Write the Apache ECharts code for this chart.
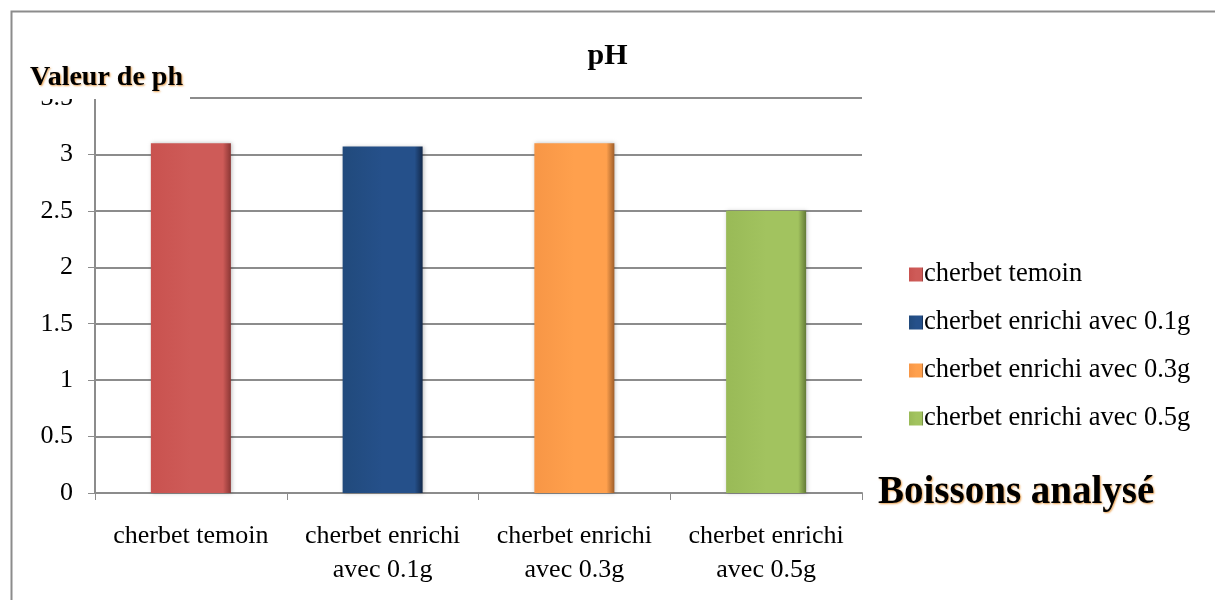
<!DOCTYPE html>
<html>
<head>
<meta charset="utf-8">
<script src="https://cdn.jsdelivr.net/npm/echarts@6/dist/echarts.min.js"></script>
<style>
  html, body { margin: 0; padding: 0; background: #fff; }
  #main { width: 1215px; height: 600px; }
</style>
</head>
<body>
<div id="main"></div>
<script>
// categories (x labels) and legend names
var categories = ['cherbet temoin', 'cherbet enrichi\navec 0.1g', 'cherbet enrichi\navec 0.3g', 'cherbet enrichi\navec 0.5g'];
var seriesNames = ['cherbet temoin', 'cherbet enrichi avec 0.1g', 'cherbet enrichi avec 0.3g', 'cherbet enrichi avec 0.5g'];
var phValues = [3.1, 3.07, 3.1, 2.5];

var chart = echarts.init(document.getElementById('main'));
var serif = '"Liberation Serif", "Times New Roman", serif';

// couleurs des barres (gauche, milieu, bord droit sombre)
var barColors = [
  ['#C9524F', '#CE5B58', '#8A3634'],
  ['#214A7C', '#25508A', '#13294A'],
  ['#F79646', '#FFA04D', '#9E5E2A'],
  ['#99BA57', '#A2C35F', '#637A36']
];

var series = [];
for (var i = 0; i < seriesNames.length; i++) {
  var d = [];
  for (var j = 0; j < categories.length; j++) {
    d.push(j === i ? phValues[i] : '-');
  }
  series.push({
    name: seriesNames[i],
    type: 'bar',
    stack: 'ph',
    barWidth: 80,
    data: d,
    itemStyle: {
      color: {
        type: 'linear', x: 0, y: 0, x2: 1, y2: 0,
        colorStops: [
          { offset: 0, color: barColors[i][0] },
          { offset: 0.5, color: barColors[i][1] },
          { offset: 0.9, color: barColors[i][1] },
          { offset: 1, color: barColors[i][2] }
        ]
      },
      shadowColor: 'rgba(0,0,0,0.25)',
      shadowBlur: 4,
      shadowOffsetX: 1
    }
  });
}

var option = {
  animation: false,
  backgroundColor: '#fff',
  title: {
    text: 'pH',
    left: 'center',
    top: 36,
    textStyle: { fontFamily: serif, fontSize: 30, fontWeight: 'bold', color: '#000' }
  },
  legend: {
    orient: 'vertical',
    left: 904,
    top: 256,
    itemWidth: 14,
    itemHeight: 14,
    itemGap: 21,
    icon: 'rect',
    textStyle: { fontFamily: serif, fontSize: 26.5, lineHeight: 25, color: '#000', padding: [0, 0, 0, -4] },
    data: seriesNames
  },
  grid: { left: 95, right: 353, top: 98, bottom: 107 },
  xAxis: {
    type: 'category',
    data: categories,
    name: 'Boissons analysé',
    nameLocation: 'end',
    nameGap: 16,
    nameTextStyle: {
      fontFamily: serif, fontSize: 39, fontWeight: 'bold', color: '#000',
      textShadowColor: '#E8A050', textShadowBlur: 2, textShadowOffsetX: 1, textShadowOffsetY: 1
    },
    axisLine: { lineStyle: { color: '#8c8c8c', width: 2 } },
    axisTick: { show: true, length: 7, alignWithLabel: false, lineStyle: { color: '#8c8c8c' } },
    axisLabel: { fontFamily: serif, fontSize: 26, color: '#000', lineHeight: 34, margin: 26, interval: 0 }
  },
  yAxis: {
    type: 'value',
    min: 0,
    max: 3.5,
    interval: 0.5,
    axisLine: { show: true, lineStyle: { color: '#8c8c8c', width: 2 } },
    axisTick: { show: true, length: 7, lineStyle: { color: '#8c8c8c' } },
    axisLabel: { fontFamily: serif, fontSize: 26, color: '#000', margin: 22 },
    splitLine: { lineStyle: { color: '#8c8c8c', width: 2 } }
  },
  graphic: [
    {
      // cadre (haut + gauche)
      type: 'rect',
      left: 9, top: 9, z: 0,
      shape: { width: 1300, height: 700 },
      style: { fill: 'none', stroke: '#8c8c8c', lineWidth: 2 },
      silent: true
    },
    {
      type: 'rect',
      left: 24, top: 60, z: 100,
      shape: { width: 166, height: 39 },
      style: { fill: '#fff' },
      silent: true
    },
    {
      type: 'text',
      left: 30, top: 64, z: 101,
      style: {
        text: 'Valeur de ph',
        font: 'bold 28px ' + serif,
        fill: '#000',
        textShadowColor: '#E8A050', textShadowBlur: 2, textShadowOffsetX: 1, textShadowOffsetY: 1
      },
      silent: true
    }
  ],
  series: series
};

chart.setOption(option);
window.onresize = chart.resize;
</script>
</body>
</html>
